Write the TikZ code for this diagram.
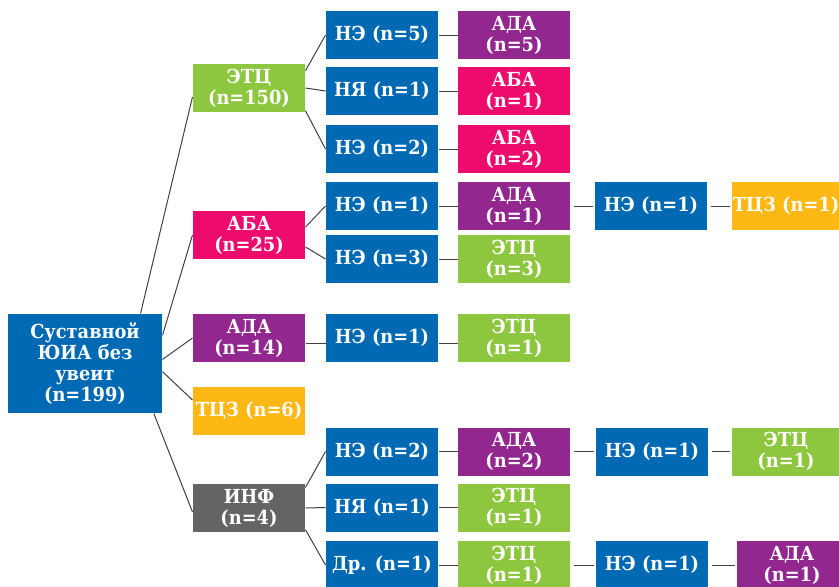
\documentclass[tikz,border=0pt]{standalone}
\usepackage{fontspec}
\newfontfamily\boxfont[FakeStretch=0.92]{DejaVu Serif}

\definecolor{boxblue}{RGB}{0,105,180}
\definecolor{boxgreen}{RGB}{141,198,63}
\definecolor{boxpink}{RGB}{237,12,110}
\definecolor{boxpurple}{RGB}{146,39,143}
\definecolor{boxyellow}{RGB}{253,184,19}
\definecolor{boxgray}{RGB}{99,100,102}
\definecolor{linkgray}{RGB}{64,64,64}

\tikzset{every picture/.style={line width=0.75pt}}
\tikzset{
  box/.style={minimum width=84pt, minimum height=36pt, inner sep=0pt, align=center, text=white,
    font=\boxfont\fontsize{14.5}{15.75}\selectfont\bfseries},
  bluebox/.style={box, fill=boxblue},
  greenbox/.style={box, fill=boxgreen},
  pinkbox/.style={box, fill=boxpink},
  purplebox/.style={box, fill=boxpurple},
  yellowbox/.style={box, fill=boxyellow},
  graybox/.style={box, fill=boxgray},
  link/.style={draw=linkgray},
  gaplink/.style={link, shorten <=2.5pt, shorten >=1.5pt}
}

\begin{document}
\begin{tikzpicture}[x=0.75pt,y=0.75pt,yscale=-1,xscale=1]
\useasboundingbox (0,0) rectangle (839,586);

% Root
\node [bluebox, minimum width=115.5pt, minimum height=74.25pt] (root) at (85,363.5) {Суставной\\ЮИА без\\увеит\\(n=199)};

% First column
\node [greenbox] (etc) at (249,88) {ЭТЦ\\(n=150)};
\node [pinkbox] (aba) at (249,235) {АБА\\(n=25)};
\node [purplebox] (ada) at (249,338) {АДА\\(n=14)};
\node [yellowbox] (tcz) at (249,411) {ТЦЗ (n=6)};
\node [graybox] (inf) at (249,508) {ИНФ\\(n=4)};

% Second column
\node [bluebox] (etcNe) at (382,35) {НЭ (n=5)};
\node [bluebox] (etcNya) at (382,91) {НЯ (n=1)};
\node [bluebox] (etcNe2) at (382,149) {НЭ (n=2)};
\node [bluebox] (abaNe1) at (382,206) {НЭ (n=1)};
\node [bluebox] (abaNe3) at (382,259) {НЭ (n=3)};
\node [bluebox] (adaNe) at (382,338) {НЭ (n=1)};
\node [bluebox] (infNe) at (382,451.5) {НЭ (n=2)};
\node [bluebox] (infNya) at (382,507.5) {НЯ (n=1)};
\node [bluebox] (infDr) at (382,565) {Др. (n=1)};

% Third column
\node [purplebox] (etcAda) at (514,35) {АДА\\(n=5)};
\node [pinkbox] (etcAba1) at (514,91) {АБА\\(n=1)};
\node [pinkbox] (etcAba2) at (514,149) {АБА\\(n=2)};
\node [purplebox] (abaAda) at (514,206) {АДА\\(n=1)};
\node [greenbox] (abaEtc) at (514,259) {ЭТЦ\\(n=3)};
\node [greenbox] (adaEtc) at (514,338) {ЭТЦ\\(n=1)};
\node [purplebox] (infAda) at (514,451.5) {АДА\\(n=2)};
\node [greenbox] (infEtc) at (514,507.5) {ЭТЦ\\(n=1)};
\node [greenbox] (drEtc) at (514,565) {ЭТЦ\\(n=1)};

% Fourth column
\node [bluebox] (abaAdaNe) at (651,206) {НЭ (n=1)};
\node [bluebox] (infAdaNe) at (652,451.5) {НЭ (n=1)};
\node [bluebox] (drEtcNe) at (652,565) {НЭ (n=1)};

% Fifth column
\node [yellowbox, minimum width=81pt] (abaAdaNeTcz) at (786,206) {ТЦЗ (n=1)};
\node [greenbox, minimum width=81pt] (infAdaNeEtc) at (786,451.5) {ЭТЦ\\(n=1)};
\node [purplebox, minimum width=82.5pt] (drEtcNeAda) at (792,565) {АДА\\(n=1)};

% Root links
\draw [link] (root.42) -- (etc.189);
\draw [link] (root.20) -- (aba.west);
\draw [link] (root.3) -- (ada.west);
\draw [link] (root.-6) -- (tcz.169);
\draw [link] (root.-36.5) -- (inf.184);

% First column links
\draw [link] (etc.17) -- (etcNe.west);
\draw [link] (etc.east) -- (etcNya.west);
\draw [link] (etc.-22) -- (etcNe2.west);
\draw [link] (aba.8) -- (abaNe1.west);
\draw [link] (aba.-12) -- (abaNe3.west);
\draw [link] ([yshift=3.75pt]ada.east) -- ([yshift=3.75pt]adaNe.west);
\draw [link] (inf.20) -- (infNe.west);
\draw [link] (inf.east) -- (infNya.west);
\draw [link] (inf.-21) -- (infDr.west);

% Second column links
\draw [link] (etcNe.east) -- (etcAda.west);
\draw [link] (etcNya.east) -- (etcAba1.west);
\draw [link] (etcNe2.east) -- (etcAba2.west);
\draw [link] (abaNe1.east) -- (abaAda.west);
\draw [link] (abaNe3.east) -- (abaEtc.west);
\draw [link] ([yshift=3.75pt]adaNe.east) -- ([yshift=3.75pt]adaEtc.west);
\draw [link] (infNe.east) -- (infAda.west);
\draw [link] (infNya.east) -- (infEtc.west);
\draw [link] (infDr.east) -- (drEtc.west);

% Third and fourth column links
\draw [gaplink] (abaAda.east) -- (abaAdaNe.west);
\draw [gaplink] (abaAdaNe.east) -- (abaAdaNeTcz.west);
\draw [gaplink] (infAda.east) -- (infAdaNe.west);
\draw [gaplink] (infAdaNe.east) -- (infAdaNeEtc.west);
\draw [gaplink] (drEtc.east) -- (drEtcNe.west);
\draw [gaplink] (drEtcNe.east) -- (drEtcNeAda.west);
\end{tikzpicture}
\end{document}
